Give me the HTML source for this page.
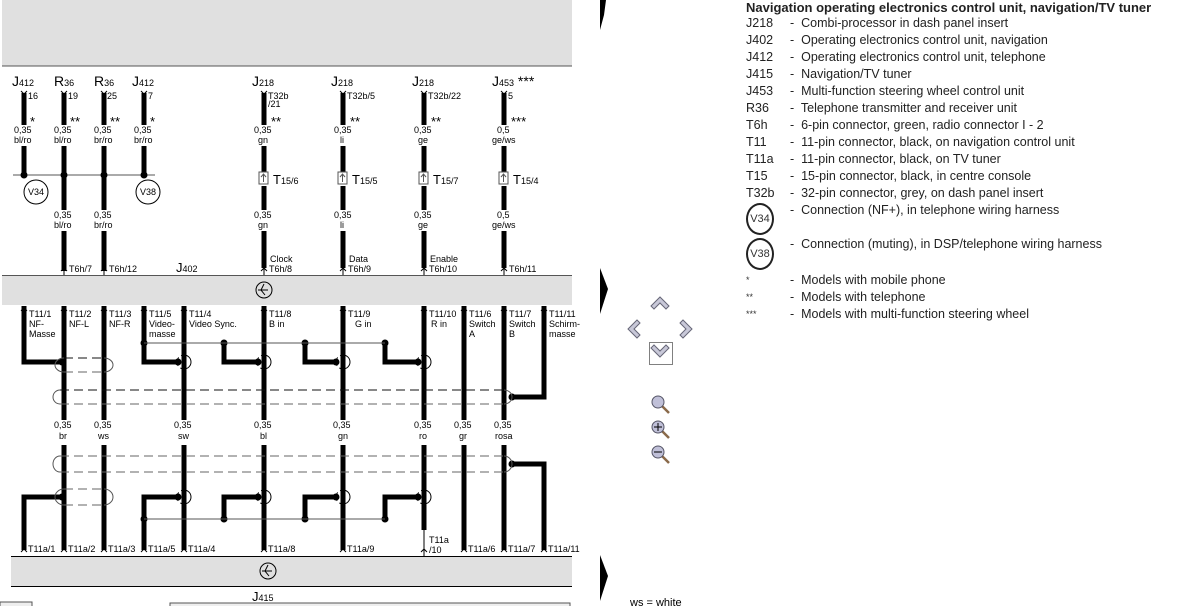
<!DOCTYPE html>
<html><head><meta charset="utf-8"><style>
body{margin:0;background:#fff;width:1183px;height:606px;overflow:hidden;font-family:"Liberation Sans",sans-serif}
svg text{font-family:"Liberation Sans",sans-serif}
.t{position:absolute;font-size:12.5px;color:#222;white-space:nowrap}
</style></head><body>
<svg width="1183" height="606" style="position:absolute;left:0;top:0">
<!-- bands -->
<rect x="2" y="0" width="570" height="66" fill="#e0e0e0"/>
<line x1="2" y1="66" x2="572" y2="66" stroke="#555"/>
<rect x="2" y="275" width="570" height="30" fill="#e0e0e0"/>
<line x1="2" y1="275.5" x2="572" y2="275.5" stroke="#555"/>
<rect x="11" y="556" width="561" height="30" fill="#e0e0e0"/>
<line x1="11" y1="556.5" x2="572" y2="556.5" stroke="#000"/>
<line x1="11" y1="586.5" x2="572" y2="586.5" stroke="#000"/>
<rect x="0" y="602" width="32" height="6" fill="#eee" stroke="#555"/>
<rect x="170" y="603" width="400" height="6" fill="#eee" stroke="#555"/>
<g fill="none" stroke="#000"><circle cx="264" cy="290" r="8"/><path d="M258 290h10M264 284l-3 6 4 5"/><circle cx="268" cy="571" r="8"/><path d="M262 571h10M268 565l-3 6 4 5"/></g>
<text x="252" y="601" font-size="13">J<tspan font-size="9">415</tspan></text>
<text x="176" y="272" font-size="13">J<tspan font-size="9">402</tspan></text>

<!-- top section labels -->
<g font-size="14">
<text x="12" y="86">J<tspan font-size="9">412</tspan></text>
<text x="54" y="86">R<tspan font-size="9">36</tspan></text>
<text x="94" y="86">R<tspan font-size="9">36</tspan></text>
<text x="132" y="86">J<tspan font-size="9">412</tspan></text>
<text x="252" y="86">J<tspan font-size="9">218</tspan></text>
<text x="331" y="86">J<tspan font-size="9">218</tspan></text>
<text x="412" y="86">J<tspan font-size="9">218</tspan></text>
<text x="492" y="86">J<tspan font-size="9">453</tspan> ***</text>
</g>
<g font-size="9">
<text x="28" y="99">16</text><text x="68" y="99">19</text><text x="107" y="99">25</text><text x="148" y="99">7</text>
<text x="268" y="99">T32b</text><text x="268" y="107">/21</text><text x="347" y="99">T32b/5</text><text x="428" y="99">T32b/22</text><text x="508" y="99">5</text>
<text x="30" y="126" font-size="13">*</text><text x="70" y="126" font-size="13">**</text><text x="110" y="126" font-size="13">**</text><text x="150" y="126" font-size="13">*</text>
<text x="271" y="126" font-size="13">**</text><text x="350" y="126" font-size="13">**</text><text x="431" y="126" font-size="13">**</text><text x="511" y="126" font-size="13">***</text>
<text x="14" y="133">0,35</text><text x="14" y="143">bl/ro</text>
<text x="54" y="133">0,35</text><text x="54" y="143">bl/ro</text>
<text x="94" y="133">0,35</text><text x="94" y="143">br/ro</text>
<text x="134" y="133">0,35</text><text x="134" y="143">br/ro</text>
<text x="254" y="133">0,35</text><text x="258" y="143">gn</text>
<text x="334" y="133">0,35</text><text x="340" y="143">li</text>
<text x="414" y="133">0,35</text><text x="418" y="143">ge</text>
<text x="497" y="133">0,5</text><text x="492" y="143">ge/ws</text>
<text x="54" y="218">0,35</text><text x="54" y="228">bl/ro</text>
<text x="94" y="218">0,35</text><text x="94" y="228">br/ro</text>
<text x="254" y="218">0,35</text><text x="258" y="228">gn</text>
<text x="334" y="218">0,35</text><text x="340" y="228">li</text>
<text x="414" y="218">0,35</text><text x="418" y="228">ge</text>
<text x="497" y="218">0,5</text><text x="492" y="228">ge/ws</text>
<text x="270" y="262">Clock</text><text x="349" y="262">Data</text><text x="430" y="262">Enable</text>
<text x="69" y="272">T6h/7</text><text x="109" y="272">T6h/12</text><text x="269" y="272">T6h/8</text><text x="348" y="272">T6h/9</text><text x="429" y="272">T6h/10</text><text x="509" y="272">T6h/11</text>
</g>
<g font-size="13"><text x="273" y="184">T<tspan font-size="9">15/6</tspan></text><text x="352" y="184">T<tspan font-size="9">15/5</tspan></text><text x="433" y="184">T<tspan font-size="9">15/7</tspan></text><text x="513" y="184">T<tspan font-size="9">15/4</tspan></text></g>
<g stroke="#000" stroke-width="5" fill="none">
<path d="M24 93v32M24 146v29M64 93v32M64 146v64M64 231v40M104 93v32M104 146v64M104 231v40M144 93v32M144 146v29"/>
<path d="M264 93v32M264 146v26M264 186v24M264 231v17M343 93v32M343 146v26M343 186v24M343 231v17M424 93v32M424 146v26M424 186v24M424 231v17M504 93v32M504 146v26M504 186v24M504 231v37"/>
<path d="M264 248v20M343 248v20M424 248v20" />
</g>
<g stroke="#000" fill="none"><path d="M21 91l3 3 3-3M61 91l3 3 3-3M101 91l3 3 3-3M141 91l3 3 3-3M261 91l3 3 3-3M340 91l3 3 3-3M421 91l3 3 3-3M501 91l3 3 3-3"/>
<path d="M64 275v-7M61 271l3-3 3 3M104 275v-7M101 271l3-3 3 3M264 275v-7M261 271l3-3 3 3M343 275v-7M340 271l3-3 3 3M424 275v-7M421 271l3-3 3 3M504 275v-7M501 271l3-3 3 3"/>
<line x1="13" y1="175" x2="155" y2="175" stroke="#555"/>
<circle cx="36" cy="192" r="12"/><circle cx="148" cy="192" r="12"/>
<g stroke="#555"><rect x="259" y="172" width="9" height="12"/><rect x="338" y="172" width="9" height="12"/><rect x="419" y="172" width="9" height="12"/><rect x="499" y="172" width="9" height="12"/>
<path d="M263.5 182v-8M261 177l2.5-3 2.5 3M342.5 182v-8M340 177l2.5-3 2.5 3M423.5 182v-8M421 177l2.5-3 2.5 3M503.5 182v-8M501 177l2.5-3 2.5 3"/></g>
</g>
<g fill="#000"><circle cx="24" cy="175" r="3.5"/><circle cx="64" cy="175" r="3.5"/><circle cx="104" cy="175" r="3.5"/><circle cx="144" cy="175" r="3.5"/></g>
<g font-size="9" text-anchor="middle"><text x="36" y="195">V34</text><text x="148" y="195">V38</text></g>

<!-- middle/bottom wires -->
<g stroke="#000" stroke-width="5" fill="none">
<path d="M64 306v114M104 306v114M184 306v114M264 306v114M343 306v114M424 306v114M464 306v114M504 306v114"/>
<path d="M64 445v105M104 445v105M184 445v105M264 445v105M343 445v105M424 445v85M464 445v105M504 445v105"/>
<path d="M24 306v56h38M144 306v56h34M224 343v19h34M305 343v19h31M385 343v19h33M544 306v91h-32"/>
<path d="M24 550v-53h38M144 550v-53h34M224 519v-22h34M305 519v-22h31M385 519v-22h33M544 550v-86h-32"/>
</g>
<g fill="#000"><circle cx="62" cy="362" r="3.5"/><circle cx="178" cy="362" r="3.5"/><circle cx="258" cy="362" r="3.5"/><circle cx="336" cy="362" r="3.5"/><circle cx="418" cy="362" r="3.5"/><circle cx="512" cy="397" r="3.5"/>
<circle cx="144" cy="343" r="3.5"/><circle cx="224" cy="343" r="3.5"/><circle cx="305" cy="343" r="3.5"/><circle cx="385" cy="343" r="3.5"/>
<circle cx="62" cy="497" r="3.5"/><circle cx="178" cy="497" r="3.5"/><circle cx="258" cy="497" r="3.5"/><circle cx="336" cy="497" r="3.5"/><circle cx="418" cy="497" r="3.5"/><circle cx="512" cy="464" r="3.5"/>
<circle cx="144" cy="519" r="3.5"/><circle cx="224" cy="519" r="3.5"/><circle cx="305" cy="519" r="3.5"/><circle cx="385" cy="519" r="3.5"/></g>
<g fill="none" stroke="#555">
<line x1="144" y1="343" x2="385" y2="343"/><line x1="144" y1="519" x2="385" y2="519"/>
<g stroke-dasharray="9,5"><path d="M64 358h40M60 390h444" stroke="#111"/><path d="M64 372h40M60 404h444M60 456h444M60 472h444M64 489h40M64 505h40" stroke="#666"/></g>
<path d="M64 358a9 7 0 0 0 0 14M104 358a9 7 0 0 1 0 14M60 390a7 7 0 0 0 0 14M504 390a8 7 0 0 1 0 14M60 456a7 8 0 0 0 0 16M504 456a8 8 0 0 1 0 16M64 489a9 8 0 0 0 0 16M104 489a9 8 0 0 1 0 16"/>
<path d="M184 355a7 7 0 0 1 0 14M264 355a7 7 0 0 1 0 14M343 355a7 7 0 0 1 0 14M424 355a7 7 0 0 1 0 14M184 490a7 7 0 0 1 0 14M264 490a7 7 0 0 1 0 14M343 490a7 7 0 0 1 0 14M424 490a7 7 0 0 1 0 14" stroke="#000"/>
<path d="M184 355a7 7 0 0 0 0 14M264 355a7 7 0 0 0 0 14M343 355a7 7 0 0 0 0 14M424 355a7 7 0 0 0 0 14M184 490a7 7 0 0 0 0 14M264 490a7 7 0 0 0 0 14M343 490a7 7 0 0 0 0 14M424 490a7 7 0 0 0 0 14" stroke="#000" stroke-dasharray="3,3"/>
<!-- pin arrows -->
<g stroke="#000"><path d="M21 310l3 3 3-3M61 310l3 3 3-3M101 310l3 3 3-3M141 310l3 3 3-3M181 310l3 3 3-3M261 310l3 3 3-3M340 310l3 3 3-3M421 310l3 3 3-3M461 310l3 3 3-3M501 310l3 3 3-3M541 310l3 3 3-3"/>
<path d="M21 552l3-3 3 3M61 552l3-3 3 3M101 552l3-3 3 3M141 552l3-3 3 3M181 552l3-3 3 3M261 552l3-3 3 3M340 552l3-3 3 3M424 556v-26M421 552l3-3 3 3M461 552l3-3 3 3M501 552l3-3 3 3M541 552l3-3 3 3"/></g>
</g>
<g font-size="9">
<text x="29" y="317">T11/1</text><text x="29" y="327">NF-</text><text x="29" y="337">Masse</text>
<text x="69" y="317">T11/2</text><text x="69" y="327">NF-L</text>
<text x="109" y="317">T11/3</text><text x="109" y="327">NF-R</text>
<text x="149" y="317">T11/5</text><text x="149" y="327">Video-</text><text x="149" y="337">masse</text>
<text x="189" y="317">T11/4</text><text x="189" y="327">Video  Sync.</text>
<text x="269" y="317">T11/8</text><text x="269" y="327">B in</text>
<text x="348" y="317">T11/9</text><text x="355" y="327">G in</text>
<text x="429" y="317">T11/10</text><text x="431" y="327">R in</text>
<text x="469" y="317">T11/6</text><text x="469" y="327">Switch</text><text x="469" y="337">A</text>
<text x="509" y="317">T11/7</text><text x="509" y="327">Switch</text><text x="509" y="337">B</text>
<text x="549" y="317">T11/11</text><text x="549" y="327">Schirm-</text><text x="549" y="337">masse</text>
<text x="54" y="428">0,35</text><text x="59" y="439">br</text>
<text x="94" y="428">0,35</text><text x="98" y="439">ws</text>
<text x="174" y="428">0,35</text><text x="178" y="439">sw</text>
<text x="254" y="428">0,35</text><text x="260" y="439">bl</text>
<text x="333" y="428">0,35</text><text x="338" y="439">gn</text>
<text x="414" y="428">0,35</text><text x="419" y="439">ro</text>
<text x="454" y="428">0,35</text><text x="459" y="439">gr</text>
<text x="494" y="428">0,35</text><text x="495" y="439">rosa</text>
<text x="28" y="552">T11a/1</text><text x="68" y="552">T11a/2</text><text x="108" y="552">T11a/3</text><text x="148" y="552">T11a/5</text><text x="188" y="552">T11a/4</text><text x="268" y="552">T11a/8</text><text x="347" y="552">T11a/9</text><text x="429" y="543">T11a</text><text x="429" y="553">/10</text><text x="468" y="552">T11a/6</text><text x="508" y="552">T11a/7</text><text x="548" y="552">T11a/11</text>
</g>
<!-- nav -->
<g fill="#000"><path d="M598 0h8l-2 15-4 15v-30"/><path d="M600 268l8 21-8 25z"/><path d="M600 555l8 21-8 25z"/></g>
<g fill="#c8c8d8" stroke="#667" stroke-width="1"><path d="M651 306l9-9 9 9-3 3-6-6-6 6z"/><path d="M637 320l-9 9 9 9 3-3-6-6 6-6z"/><path d="M683 320l9 9-9 9-3-3 6-6-6-6z"/><path d="M651 348l9 9 9-9-3-3-6 6-6-6z"/></g>
<rect x="649.5" y="342.5" width="23" height="22" fill="none" stroke="#000" stroke-dasharray="1,1"/>
<g stroke="#8a6a4a" stroke-width="2.5"><path d="M662 406l7 7M662 431l7 7M662 456l7 7"/></g>
<g fill="#c0c0d8" stroke="#556"><circle cx="658" cy="402" r="6"/><circle cx="658" cy="427" r="6"/><circle cx="658" cy="452" r="6"/></g>
<path d="M654 427h8M658 423v8M654 452h8" stroke="#000"/>
<text x="630" y="606" font-size="11">ws  =  white</text>
</svg>
<div class="t" style="left:746px;top:0;font-weight:bold;font-size:13px">Navigation operating electronics control unit, navigation/TV tuner</div>
<div style="position:absolute;left:746px;top:15px;font-size:12.5px;line-height:17px;color:#222">
<div>J218</div><div>J402</div><div>J412</div><div>J415</div><div>J453</div><div>R36</div><div>T6h</div><div>T11</div><div>T11a</div><div>T15</div><div>T32b</div>
</div>
<div style="position:absolute;left:790px;top:15px;font-size:12.5px;line-height:17px;color:#222;white-space:nowrap">
<div>-&nbsp; Combi-processor in dash panel insert</div><div>-&nbsp; Operating electronics control unit, navigation</div><div>-&nbsp; Operating electronics control unit, telephone</div><div>-&nbsp; Navigation/TV tuner</div><div>-&nbsp; Multi-function steering wheel control unit</div><div>-&nbsp; Telephone transmitter and receiver unit</div><div>-&nbsp; 6-pin connector, green, radio connector I - 2</div><div>-&nbsp; 11-pin connector, black, on navigation control unit</div><div>-&nbsp; 11-pin connector, black, on TV tuner</div><div>-&nbsp; 15-pin connector, black, in centre console</div><div>-&nbsp; 32-pin connector, grey, on dash panel insert</div><div>-&nbsp; Connection (NF+), in telephone wiring harness</div>
</div>
<div style="position:absolute;left:746px;top:203px;width:24px;height:28px;border:2px solid #222;border-radius:50%;font-size:11px;line-height:28px;text-align:center;color:#333">V34</div>
<div style="position:absolute;left:746px;top:238px;width:24px;height:28px;border:2px solid #222;border-radius:50%;font-size:11px;line-height:28px;text-align:center;color:#333">V38</div>
<div class="t" style="left:790px;top:237px">-&nbsp; Connection (muting), in DSP/telephone wiring harness</div>
<div style="position:absolute;left:746px;top:272px;font-size:9px;line-height:17px;color:#333"><div>*</div><div>**</div><div>***</div></div>
<div style="position:absolute;left:790px;top:272px;font-size:12.5px;line-height:17px;color:#222;white-space:nowrap"><div>-&nbsp; Models with mobile phone</div><div>-&nbsp; Models with telephone</div><div>-&nbsp; Models with multi-function steering wheel</div></div>
</body></html>
